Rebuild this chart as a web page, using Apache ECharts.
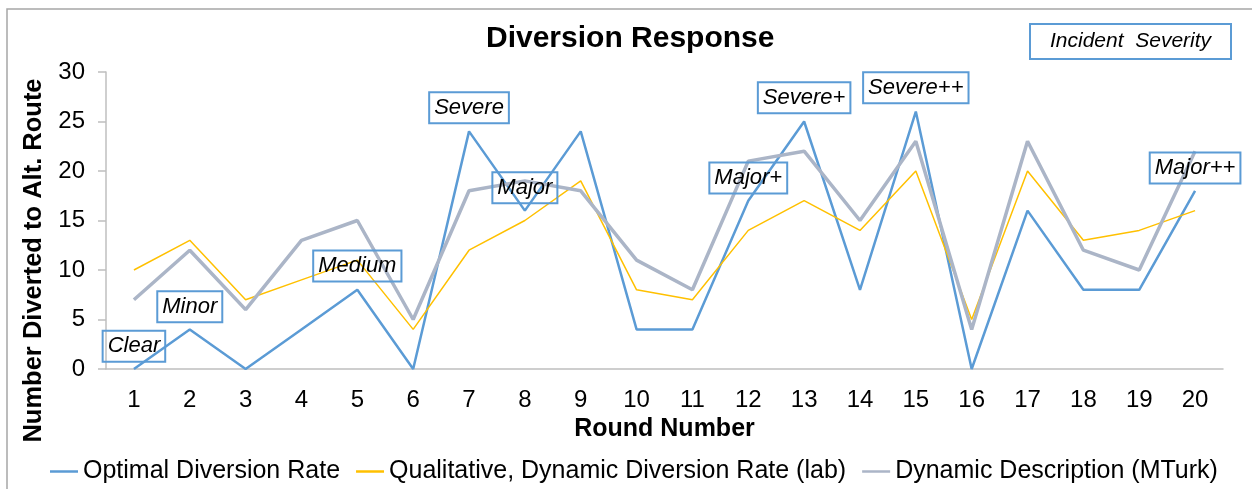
<!DOCTYPE html>
<html>
<head>
<meta charset="utf-8">
<title>Diversion Response</title>
<script src="https://cdn.jsdelivr.net/npm/echarts@6/dist/echarts.min.js"></script>
<style>
  html, body { margin: 0; padding: 0; background: #fff; }
  #chart { width: 1252px; height: 489px; }
</style>
</head>
<body>
<div id="chart"></div>
<script>
// rounds on the x axis
const rounds = ['1', '2', '3', '4', '5', '6', '7', '8', '9', '10',
  '11', '12', '13', '14', '15', '16', '17', '18', '19', '20']

// number diverted to the alternate route, per round
const optimalRate = [0, 4, 0, 4, 8, 0, 24, 16, 24, 4, 4, 17, 25, 8, 26, 0, 16, 8, 8, 18]
const qualitativeLab = [10, 13, 7, 9, 11, 4, 12, 15, 19, 8, 7, 14, 17, 14, 20, 5, 20, 13, 14, 16]
const dynamicMTurk = [7, 12, 6, 13, 15, 5, 18, 19, 18, 11, 8, 21, 22, 15, 23, 4, 23, 12, 10, 22]

const seriesNames = [
  'Optimal Diversion Rate',
  'Qualitative, Dynamic Diversion Rate (lab)',
  'Dynamic Description (MTurk)',
]

// incident severity callouts and the round they belong to
const severityText = ['Clear', 'Minor', 'Medium', 'Severe', 'Major', 'Major+', 'Severe+', 'Severe++', 'Major++']
const severityRound = ['1', '2', '5', '7', '8', '12', '13', '15', '20']

const FONT = '"Liberation Sans", Arial, sans-serif'
const BLUE = '#5b9bd5'
const YELLOW = '#ffc000'
const GREY = '#abb5c7'
const AXIS = '#bfbfbf'

// where each callout box sits, in axis units
const calloutY = [2.3, 6.3, 10.4, 26.4, 18.3, 19.3, 27.4, 28.4, 20.3]

const chart = echarts.init(document.getElementById('chart'), null, { renderer: 'canvas' })

chart.setOption({
  animation: false,
  textStyle: { fontFamily: FONT },
  title: [
    {
      text: 'Diversion Response',
      left: 486,
      top: 24,
      padding: 0,
      textStyle: { fontFamily: FONT, fontSize: 30, fontWeight: 'bold', color: '#000' },
    },
    {
      text: 'Incident  Severity',
      left: 1030,
      top: 24,
      padding: [7, 20, 7, 20],
      borderColor: BLUE,
      borderWidth: 2,
      textStyle: { fontFamily: FONT, fontSize: 21, fontStyle: 'italic', fontWeight: 'normal', color: '#000' },
    },
  ],
  graphic: [
    {
      type: 'rect',
      shape: { x: 7, y: 9, width: 1400, height: 700 },
      style: { fill: 'none', stroke: '#a6a6a6', lineWidth: 1.5 },
      silent: true,
    },
  ],
  legend: {
    left: 45,
    top: 454,
    icon: 'rect',
    itemWidth: 28,
    itemHeight: 2.5,
    itemGap: 16,
    selectedMode: false,
    textStyle: { fontFamily: FONT, fontSize: 25, color: '#000' },
    data: seriesNames,
  },
  grid: {
    left: 106,
    right: 29,
    top: 72,
    bottom: 120,
  },
  xAxis: {
    type: 'category',
    data: rounds,
    boundaryGap: true,
    name: 'Round Number',
    nameLocation: 'middle',
    nameGap: 40,
    nameTextStyle: { fontFamily: FONT, fontSize: 25, fontWeight: 'bold', color: '#000' },
    axisLine: { lineStyle: { color: AXIS, width: 1.5 } },
    axisTick: { length: 8, lineStyle: { color: AXIS, width: 1.5 } },
    axisLabel: { fontFamily: FONT, fontSize: 24, color: '#000', margin: 19, interval: 0 },
  },
  yAxis: {
    type: 'value',
    min: 0,
    max: 30,
    interval: 5,
    name: 'Number Diverted to Alt. Route',
    nameLocation: 'middle',
    nameGap: 56,
    nameTextStyle: { fontFamily: FONT, fontSize: 25.5, fontWeight: 'bold', color: '#000', padding: [0, 80, 0, 0] },
    axisLine: { show: true, lineStyle: { color: AXIS, width: 1.5 } },
    axisTick: { show: true, length: 8, lineStyle: { color: AXIS, width: 1.5 } },
    axisLabel: { fontFamily: FONT, fontSize: 24, color: '#000', margin: 21 },
    splitLine: { show: false },
  },
  series: [
    {
      name: seriesNames[0],
      type: 'line',
      data: optimalRate,
      symbol: 'none',
      color: BLUE,
      lineStyle: { color: BLUE, width: 2.5 },
      markPoint: {
        symbol: 'rect',
        symbolSize: 1,
        itemStyle: { color: 'rgba(0,0,0,0)' },
        label: {
          show: true,
          position: 'inside',
          formatter: '{b}',
          fontFamily: FONT,
          fontSize: 22,
          fontStyle: 'italic',
          color: '#000',
          lineHeight: 23,
          borderColor: BLUE,
          borderWidth: 2,
          padding: [4, 5, 4, 5],
        },
        data: severityText.map((t, i) => ({ name: t, coord: [severityRound[i], calloutY[i]] })),
      },
    },
    {
      name: seriesNames[1],
      type: 'line',
      data: qualitativeLab,
      symbol: 'none',
      color: YELLOW,
      lineStyle: { color: YELLOW, width: 1.5 },
    },
    {
      name: seriesNames[2],
      type: 'line',
      data: dynamicMTurk,
      symbol: 'none',
      color: GREY,
      lineStyle: { color: GREY, width: 3.5 },
    },
  ],
})
</script>
</body>
</html>
